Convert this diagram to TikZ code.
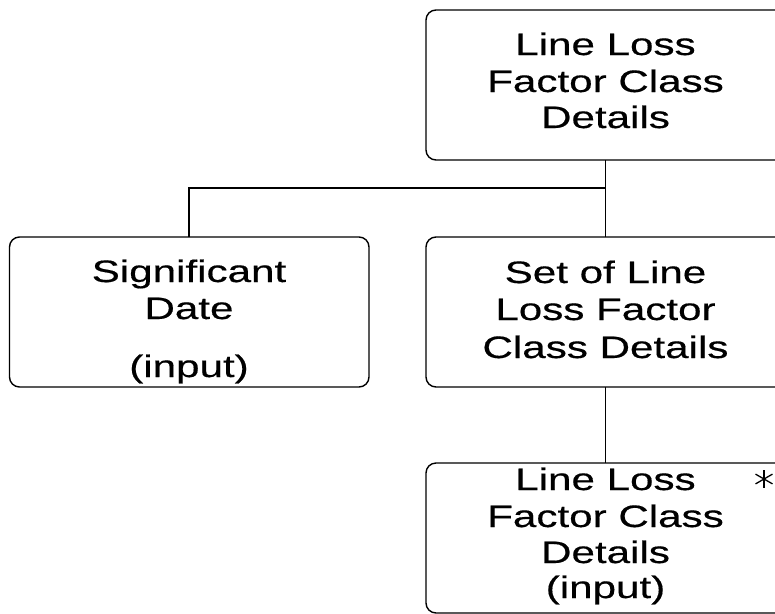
\documentclass[tikz,border=0pt]{standalone}
\usepackage{fontspec}
\newfontfamily\boxfont[FakeStretch=1.36,FakeBold=0.5]{Liberation Sans}
\begin{document}
\begin{tikzpicture}[x=1pt,y=-1pt,
  box/.style={draw=black,line width=1.4pt,rounded corners=10pt},
  conn/.style={draw=black,line width=1.4pt},
  txt/.style={anchor=base,inner sep=0pt,font=\boxfont\fontsize{31}{37}\selectfont},
  astline/.style={line width=1.3pt}]
\clip (0,0) rectangle (775,613);
\fill[white] (0,0) rectangle (775,613);
% boxes
\draw[box] (426,10) rectangle (785,160);
\draw[box] (9.5,237) rectangle (369,387);
\draw[box] (426,237) rectangle (785,387);
\draw[box] (426,463) rectangle (785,613);
\coordinate (topb) at (605.5,160);
\coordinate (leftt) at (189,237);
\coordinate (midt) at (605.5,237);
\coordinate (midb) at (605.5,387);
\coordinate (bott) at (605.5,463);
\coordinate (jl) at (189,188);
\coordinate (jr) at (605.5,188);
% connectors
\draw[conn] (topb) -- (midt);
\draw[conn] (jr) -- (jl) -- (leftt);
\draw[conn] (midb) -- (bott);
% top box text
\node[txt] (t1) at (605.5,55) {Line Loss};
\node[txt] (t2) at (605.5,92) {Factor Class};
\node[txt] (t3) at (605.5,128) {Details};
% left box text
\node[txt] (l1) at (189,282) {Significant};
\node[txt] (l2) at (189,319) {Date};
\node[txt] (l3) at (189,377) {(input)};
% middle box text
\node[txt] (m1) at (605.5,283) {Set of Line};
\node[txt] (m2) at (605.5,320) {Loss Factor};
\node[txt] (m3) at (605.5,358) {Class Details};
% bottom box text
\node[txt] (b1) at (605.5,490) {Line Loss};
\node[txt] (b2) at (605.5,527) {Factor Class};
\node[txt] (b3) at (605.5,563) {Details};
\node[txt] (b4) at (605.5,598) {(input)};
% asterisk
\coordinate (ast) at (764,479);
\draw[astline] (ast) ++(0,-9) -- ++(0,18);
\draw[astline] (ast) ++(-8.5,-4.9) -- ++(17,9.8);
\draw[astline] (ast) ++(-8.5,4.9) -- ++(17,-9.8);
\end{tikzpicture}
\end{document}
